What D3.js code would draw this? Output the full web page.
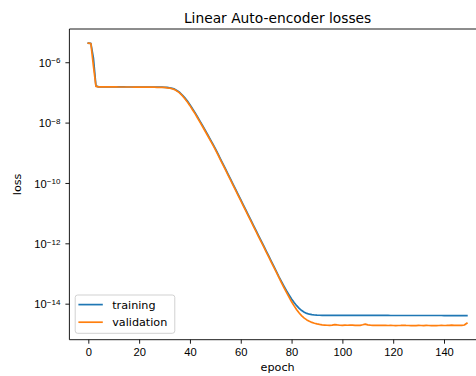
<!DOCTYPE html>
<html>
<head>
<meta charset="utf-8">
<script src="https://cdn.jsdelivr.net/npm/d3@7"></script>
<style>
  body { margin: 0; background: #fff; }
  svg { display: block; font-family: "DejaVu Sans", sans-serif; }
  .axis line { stroke: #000; stroke-width: 0.9; }
  .axis text { fill: #000; font-size: 11.2px; }
</style>
</head>
<body>
<svg id="chart" width="476" height="376"></svg>
<script>
// loss per epoch
const trainingLoss = [
  4.30e-6, 4.22e-6, 1.40e-6, 1.65e-7, 1.53e-7, 1.52e-7, 1.52e-7, 1.52e-7, 1.52e-7, 1.52e-7,
  1.52e-7, 1.52e-7, 1.52e-7, 1.52e-7, 1.52e-7, 1.51e-7, 1.51e-7, 1.51e-7, 1.51e-7, 1.51e-7,
  1.51e-7, 1.51e-7, 1.50e-7, 1.50e-7, 1.50e-7, 1.50e-7, 1.50e-7, 1.49e-7, 1.49e-7, 1.49e-7,
  1.48e-7, 1.46e-7, 1.42e-7, 1.36e-7, 1.28e-7, 1.14e-7, 9.9e-8, 8.2e-8, 6.6e-8, 5.2e-8,
  3.94e-8, 2.90e-8, 2.14e-8, 1.54e-8, 1.10e-8, 7.9e-9, 5.6e-9, 3.97e-9, 2.79e-9, 1.97e-9,
  1.38e-9, 9.35e-10, 6.32e-10, 4.28e-10, 2.91e-10, 1.97e-10, 1.33e-10, 9.0e-11, 6.1e-11, 4.12e-11,
  2.79e-11, 1.89e-11, 1.28e-11, 8.65e-12, 5.85e-12, 3.96e-12, 2.68e-12, 1.81e-12, 1.23e-12, 8.33e-13,
  5.64e-13, 3.81e-13, 2.58e-13, 1.75e-13, 1.18e-13, 7.88e-14, 5.47e-14, 3.81e-14, 2.70e-14, 1.95e-14,
  1.43e-14, 1.09e-14, 8.59e-15, 6.98e-15, 5.90e-15, 5.22e-15, 4.76e-15, 4.48e-15, 4.31e-15, 4.21e-15,
  4.15e-15, 4.13e-15, 4.12e-15, 4.12e-15, 4.11e-15, 4.11e-15, 4.11e-15, 4.10e-15, 4.10e-15, 4.10e-15,
  4.10e-15, 4.09e-15, 4.09e-15, 4.09e-15, 4.09e-15, 4.09e-15, 4.08e-15, 4.08e-15, 4.08e-15, 4.08e-15,
  4.08e-15, 4.08e-15, 4.07e-15, 4.07e-15, 4.07e-15, 4.07e-15, 4.07e-15, 4.07e-15, 4.07e-15, 4.06e-15,
  4.06e-15, 4.06e-15, 4.06e-15, 4.06e-15, 4.06e-15, 4.06e-15, 4.06e-15, 4.06e-15, 4.05e-15, 4.05e-15,
  4.05e-15, 4.05e-15, 4.05e-15, 4.05e-15, 4.05e-15, 4.05e-15, 4.05e-15, 4.05e-15, 4.05e-15, 4.05e-15,
  4.04e-15, 4.04e-15, 4.04e-15, 4.04e-15, 4.04e-15, 4.04e-15, 4.04e-15, 4.04e-15, 4.04e-15, 4.04e-15
];
const validationLoss = [
  4.27e-6, 4.17e-6, 7.6e-7, 1.58e-7, 1.52e-7, 1.52e-7, 1.52e-7, 1.52e-7, 1.52e-7, 1.52e-7,
  1.52e-7, 1.52e-7, 1.51e-7, 1.51e-7, 1.51e-7, 1.51e-7, 1.51e-7, 1.51e-7, 1.50e-7, 1.50e-7,
  1.50e-7, 1.50e-7, 1.50e-7, 1.49e-7, 1.49e-7, 1.49e-7, 1.49e-7, 1.48e-7, 1.48e-7, 1.48e-7,
  1.47e-7, 1.42e-7, 1.38e-7, 1.32e-7, 1.24e-7, 1.10e-7, 9.5e-8, 7.8e-8, 6.2e-8, 4.83e-8,
  3.64e-8, 2.68e-8, 1.98e-8, 1.42e-8, 1.02e-8, 7.3e-9, 5.18e-9, 3.67e-9, 2.58e-9, 1.82e-9,
  1.28e-9, 8.65e-10, 5.85e-10, 3.96e-10, 2.69e-10, 1.82e-10, 1.23e-10, 8.32e-11, 5.64e-11, 3.81e-11,
  2.58e-11, 1.75e-11, 1.18e-11, 8.01e-12, 5.42e-12, 3.67e-12, 2.48e-12, 1.68e-12, 1.14e-12, 7.71e-13,
  5.22e-13, 3.53e-13, 2.39e-13, 1.62e-13, 1.10e-13, 7.42e-14, 5.02e-14, 3.43e-14, 2.36e-14, 1.64e-14,
  1.16e-14, 8.45e-15, 6.32e-15, 4.91e-15, 3.96e-15, 3.32e-15, 2.90e-15, 2.60e-15, 2.39e-15, 2.25e-15,
  2.13e-15, 2.05e-15, 1.99e-15, 1.96e-15, 1.93e-15, 1.92e-15, 1.94e-15, 2.02e-15, 1.97e-15, 1.93e-15,
  1.92e-15, 1.94e-15, 1.93e-15, 1.95e-15, 1.94e-15, 1.92e-15, 1.93e-15, 1.92e-15, 2.00e-15, 2.10e-15,
  1.99e-15, 1.94e-15, 1.92e-15, 1.91e-15, 1.90e-15, 1.90e-15, 1.91e-15, 1.90e-15, 1.89e-15, 1.90e-15,
  1.89e-15, 1.88e-15, 1.89e-15, 1.90e-15, 1.92e-15, 1.90e-15, 1.89e-15, 1.88e-15, 1.89e-15, 1.88e-15,
  1.90e-15, 1.89e-15, 1.88e-15, 1.90e-15, 1.89e-15, 1.88e-15, 1.89e-15, 1.88e-15, 1.89e-15, 1.90e-15,
  1.89e-15, 1.90e-15, 1.92e-15, 1.94e-15, 1.90e-15, 1.91e-15, 1.93e-15, 1.90e-15, 1.96e-15, 2.25e-15
];
const seriesNames = ['training', 'validation'];
const seriesColors = ['#1f77b4', '#ff7f0e'];
const xTicks = [0, 20, 40, 60, 80, 100, 120, 140];
const yTickExponents = [-6, -8, -10, -12, -14];

const svg = d3.select('#chart');
const margin = { top: 29, left: 69.4, bottom: 36.3 };
const plotWidth = 416.4;   // right edge falls outside the picture
const plotHeight = 376 - margin.top - margin.bottom;

const series = [trainingLoss, validationLoss].map((values, i) => ({
  name: seriesNames[i],
  color: seriesColors[i],
  points: values.map((v, epoch) => ({ epoch, v }))
}));

// matplotlib-style 5% margins (log space for y)
const nEpochs = trainingLoss.length - 1;
const xPad = nEpochs * 0.05;
const xScale = d3.scaleLinear().domain([-xPad, nEpochs + xPad]).range([0, plotWidth]);

const allLogs = trainingLoss.concat(validationLoss).map(Math.log10);
const lo = d3.min(allLogs), hi = d3.max(allLogs);
const yPad = (hi - lo) * 0.05;
const yScale = d3.scaleLog()
  .domain([Math.pow(10, lo - yPad), Math.pow(10, hi + yPad)])
  .range([plotHeight, 0]);

const chart = svg.append('g').attr('transform', `translate(${margin.left}, ${margin.top})`);

chart.append('clipPath').attr('id', 'clip')
  .append('rect').attr('width', plotWidth).attr('height', plotHeight);

const line = d3.line().x(d => xScale(d.epoch)).y(d => yScale(d.v));

chart.append('g').attr('clip-path', 'url(#clip)')
  .selectAll('path')
  .data(series)
  .enter()
  .append('path')
  .attr('d', d => line(d.points))
  .attr('fill', 'none')
  .attr('stroke', d => d.color)
  .attr('stroke-width', 1.7)
  .attr('stroke-linejoin', 'round')
  .attr('stroke-linecap', 'square');

// axes
const xAxis = d3.axisBottom(xScale).tickValues(xTicks).tickSize(4).tickPadding(4).tickFormat(d3.format('d'));
chart.append('g')
  .attr('class', 'axis axis-x')
  .attr('transform', `translate(0, ${plotHeight})`)
  .call(xAxis);

const yAxis = d3.axisLeft(yScale)
  .tickValues(yTickExponents.map(e => Math.pow(10, e)))
  .tickSize(4).tickPadding(4)
  .tickFormat('');
const yG = chart.append('g').attr('class', 'axis axis-y').call(yAxis);
yG.selectAll('.tick').each(function(d) {
  const exp = Math.round(Math.log10(d));
  const t = d3.select(this).append('text')
    .attr('x', -9).attr('dy', '0.36em').attr('text-anchor', 'end');
  t.append('tspan').text('10');
  t.append('tspan').attr('dy', '-0.42em').style('font-size', '8px').text('\u2212' + Math.abs(exp));
});

// spines: left, bottom, top
chart.selectAll('.domain').remove();
const spines = [[0, 0, 0, plotHeight], [0, plotHeight, plotWidth, plotHeight], [0, 0, plotWidth, 0]];
chart.selectAll('.spine').data(spines).enter().append('line')
  .attr('class', 'spine')
  .attr('x1', d => d[0]).attr('y1', d => d[1]).attr('x2', d => d[2]).attr('y2', d => d[3])
  .attr('stroke', '#000').attr('stroke-width', 0.9);

// labels
svg.append('text')
  .attr('x', margin.left + plotWidth / 2).attr('y', 22.5)
  .attr('text-anchor', 'middle').style('font-size', '13.8px')
  .text('Linear Auto-encoder losses');

svg.append('text')
  .attr('x', margin.left + plotWidth / 2).attr('y', 370.5)
  .attr('text-anchor', 'middle').style('font-size', '11.2px')
  .text('epoch');

svg.append('text')
  .attr('transform', `translate(20.5, ${margin.top + plotHeight / 2}) rotate(-90)`)
  .attr('text-anchor', 'middle').style('font-size', '11.2px')
  .text('loss');

// legend
const legend = chart.append('g').attr('transform', 'translate(5.8, 266)');
legend.append('rect')
  .attr('width', 99.6).attr('height', 38.3).attr('rx', 2.5)
  .attr('fill', '#fff').attr('fill-opacity', 0.8)
  .attr('stroke', '#ccc').attr('stroke-width', 0.9);
const items = legend.selectAll('.item').data(series).enter().append('g')
  .attr('class', 'item')
  .attr('transform', (d, i) => `translate(0, ${9.6 + i * 17.6})`);
items.append('line')
  .attr('x1', 3.2).attr('x2', 27.6)
  .attr('stroke', d => d.color).attr('stroke-width', 1.7);
items.append('text')
  .attr('x', 37).attr('dy', '0.35em').style('font-size', '11.2px')
  .text(d => d.name);
</script>
</body>
</html>
